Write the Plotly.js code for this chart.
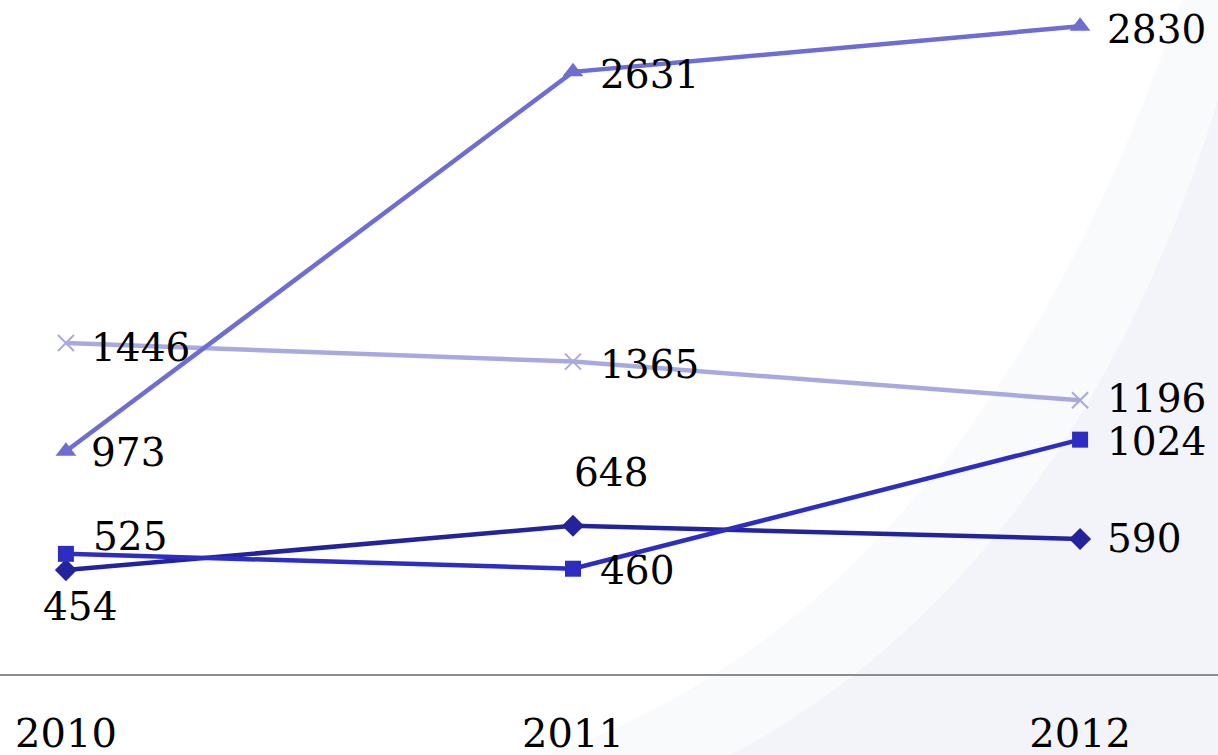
<!DOCTYPE html>
<html>
<head>
<meta charset="utf-8">
<script src="https://cdn.plot.ly/plotly-3.0.1.min.js"></script>
<style>
html,body{margin:0;padding:0;background:#fff;}
#chart{width:1218px;height:755px;}
</style>
</head>
<body>
<div id="chart"></div>
<script>
const years = ['2010', '2011', '2012'];
const seriesTriangle = [973, 2631, 2830];
const seriesCross = [1446, 1365, 1196];
const seriesSquare = [525, 460, 1024];
const seriesDiamond = [454, 648, 590];

const font = 'DejaVu Serif';

function mk(y, color, symbol, size, width, lw) {
  return {
    type: 'scatter', mode: 'lines+markers', x: years, y: y,
    line: {color: color, width: lw},
    marker: {symbol: symbol, size: size, color: color, line: {color: color, width: width}},
    cliponaxis: false, hoverinfo: 'none'
  };
}

const traces = [
  mk(seriesCross, '#a9a9e2', 'x-thin', 16, 2, 4.5),
  mk(seriesDiamond, '#23239c', 'diamond', 17, 0, 4.5),
  mk(seriesSquare, '#2d2dc2', 'square', 16, 0, 4.5),
  mk(seriesTriangle, '#6d6dd3', 'triangle-up', 18, 0, 4.5)
];

const labelSpecs = [
  {y: seriesTriangle, pos: [[23, -1, 'left'], [25, -3, 'left'], [25, -3, 'left']]},
  {y: seriesCross, pos: [[23, -4, 'left'], [25, -3, 'left'], [25, 2, 'left']]},
  {y: seriesSquare, pos: [[25, 17, 'left'], [25, -2, 'left'], [25, -2, 'left']]},
  {y: seriesDiamond, pos: [[14, -36, 'center'], [38, 53, 'center'], [25, 0, 'left']]}
];
const annotations = [];
labelSpecs.forEach(s => {
  s.y.forEach((v, i) => {
    const p = s.pos[i];
    annotations.push({
      x: i, y: v, xref: 'x', yref: 'y', text: String(v), showarrow: false,
      xanchor: p[2], yanchor: 'middle', xshift: p[0], yshift: p[1],
      font: {family: font, size: 39, color: '#000000'}
    });
  });
});

const layout = {
  width: 1218, height: 755,
  margin: {l: 0, r: 0, t: 0, b: 81, pad: 0},
  paper_bgcolor: '#ffffff', plot_bgcolor: 'rgba(0,0,0,0)',
  showlegend: false,
  xaxis: {
    type: 'category', range: [-0.13, 2.272], showgrid: false, zeroline: false,
    showline: true, linecolor: '#8c8c8c', linewidth: 2,
    ticks: 'outside', ticklen: 23, tickcolor: 'rgba(0,0,0,0)',
    tickfont: {family: font, size: 40, color: '#000'}, fixedrange: true
  },
  yaxis: {
    range: [0, 2945], showgrid: false, zeroline: false, showline: false,
    showticklabels: false, fixedrange: true
  },
  annotations: annotations,
  shapes: [
    {type: 'path', xref: 'paper', yref: 'paper', layer: 'below',
     path: 'M 0.45 -0.12 Q 0.8 0.1 0.97 1.0 L 1.0 1.0 L 1.0 -0.12 Z',
     fillcolor: 'rgba(232,235,242,0.25)', line: {width: 0}},
    {type: 'path', xref: 'paper', yref: 'paper', layer: 'below',
     path: 'M 0.6 -0.12 Q 0.88 0.15 1.0 0.85 L 1.0 -0.12 Z',
     fillcolor: 'rgba(226,229,238,0.25)', line: {width: 0}}
  ]
};

Plotly.newPlot('chart', traces, layout, {displayModeBar: false});
</script>
</body>
</html>
